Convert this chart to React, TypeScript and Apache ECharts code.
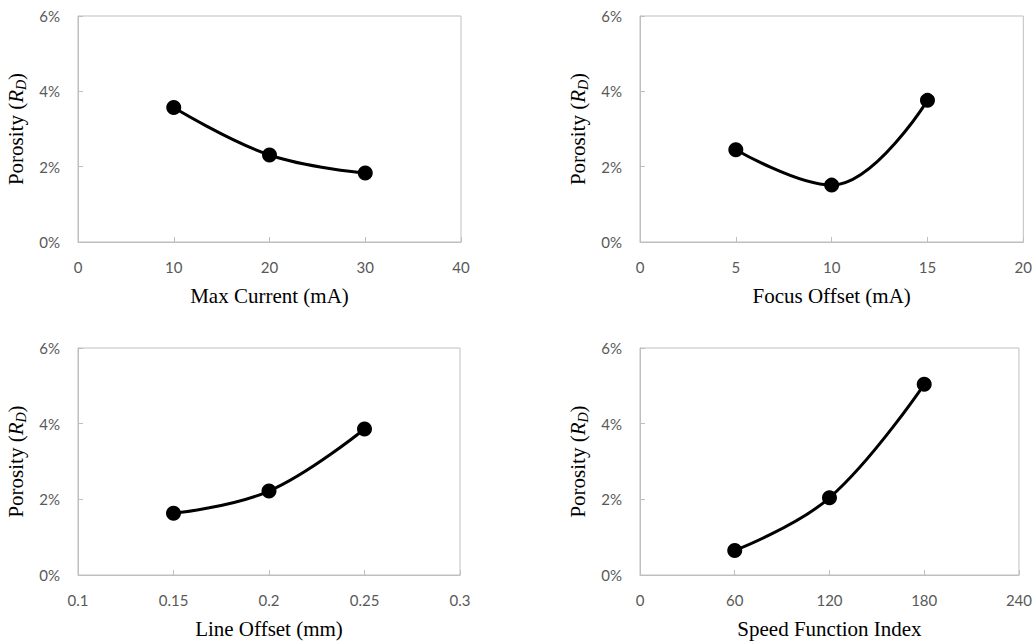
import React, { useEffect, useRef } from "react";
import * as echarts from "echarts";

const maxCurrentX = [10, 20, 30];
const maxCurrentY = [3.57, 2.31, 1.83];
const focusOffsetX = [5, 10, 15];
const focusOffsetY = [2.45, 1.51, 3.76];
const lineOffsetX = [0.15, 0.2, 0.25];
const lineOffsetY = [1.63, 2.22, 3.86];
const speedIndexX = [60, 120, 180];
const speedIndexY = [0.65, 2.04, 5.04];

const xTitles = ["Max Current (mA)", "Focus Offset (mA)", "Line Offset (mm)", "Speed Function Index"];
const xRanges = [
  { min: 0, max: 40, interval: 10 },
  { min: 0, max: 20, interval: 5 },
  { min: 0.1, max: 0.3, interval: 0.05 },
  { min: 0, max: 240, interval: 60 },
];
const yTicks = { min: 0, max: 6, interval: 2 };

const grids = [
  { left: 78, top: 16, width: 383, height: 226 },
  { left: 640, top: 16, width: 384, height: 226 },
  { left: 78, top: 348, width: 382, height: 227 },
  { left: 640, top: 348, width: 380, height: 227 },
];

const AXIS_COLOR = "#bfbfbf";
const LABEL_COLOR = "#595959";

export default function App() {
  const ref = useRef<HTMLDivElement>(null);
  useEffect(() => {
    if (!ref.current) return;
    const chart = echarts.init(ref.current, null, { renderer: "svg" });
    const datasets = [
      [maxCurrentX, maxCurrentY],
      [focusOffsetX, focusOffsetY],
      [lineOffsetX, lineOffsetY],
      [speedIndexX, speedIndexY],
    ];
    const option: any = {
      animation: false,
      backgroundColor: "#ffffff",
      grid: grids.map((g) => ({ ...g, show: true, borderColor: AXIS_COLOR, borderWidth: 1, backgroundColor: "transparent" })),
      xAxis: grids.map((_, i) => ({
        type: "value",
        gridIndex: i,
        min: xRanges[i].min,
        max: xRanges[i].max,
        interval: xRanges[i].interval,
        name: xTitles[i],
        nameLocation: "middle",
        nameGap: 43,
        nameTextStyle: { fontFamily: "Liberation Serif", fontSize: 21, color: "#000" },
        axisLine: { show: true, lineStyle: { color: AXIS_COLOR, width: 1 } },
        axisTick: { show: true, inside: true, length: 5, lineStyle: { color: AXIS_COLOR } },
        splitLine: { show: false },
        axisLabel: {
          fontFamily: "Lato",
          fontSize: 15,
          color: LABEL_COLOR,
          margin: 17,
          formatter: (v: number) => String(+v.toFixed(2)),
        },
      })),
      yAxis: grids.map((_, i) => ({
        type: "value",
        gridIndex: i,
        min: yTicks.min,
        max: yTicks.max,
        interval: yTicks.interval,
        name: "{a|Porosity (}{i|R}{s|D}{a|)}",
        nameLocation: "middle",
        nameRotate: 90,
        nameGap: 50,
        nameTextStyle: {
          rich: {
            a: { fontFamily: "Liberation Serif", fontSize: 21, color: "#000", lineHeight: 25 },
            i: { fontFamily: "Liberation Serif", fontSize: 21, fontStyle: "italic", color: "#000", lineHeight: 25 },
            s: { fontFamily: "Liberation Serif", fontSize: 14, fontStyle: "italic", color: "#000", lineHeight: 14, verticalAlign: "bottom" },
          },
        },
        axisLine: { show: true, lineStyle: { color: AXIS_COLOR, width: 1 } },
        axisTick: { show: true, inside: true, length: 5, lineStyle: { color: AXIS_COLOR } },
        splitLine: { show: false },
        axisLabel: {
          fontFamily: "Lato",
          fontSize: 15,
          color: LABEL_COLOR,
          margin: 18,
          formatter: (v: number) => `${v}%`,
        },
      })),
      series: datasets.map(([xs, ys], i) => ({
        type: "line",
        xAxisIndex: i,
        yAxisIndex: i,
        data: xs.map((x, k) => [x, ys[k]]),
        smooth: 0.4,
        symbol: "circle",
        symbolSize: 15,
        itemStyle: { color: "#000" },
        lineStyle: { color: "#000", width: 3 },
      })),
    };
    chart.setOption(option);
    return () => chart.dispose();
  }, []);
  return (
    <div
      ref={ref}
      style={{ position: "fixed", left: 0, top: 0, width: 1035, height: 642, background: "#fff" }}
    />
  );
}
